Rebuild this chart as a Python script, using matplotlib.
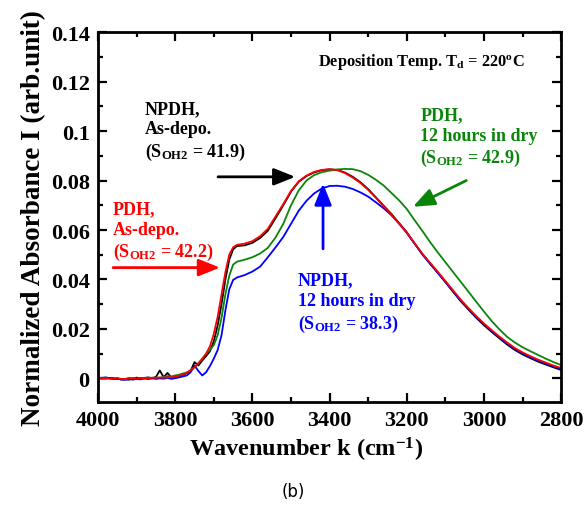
import matplotlib
matplotlib.use("Agg")
import matplotlib.pyplot as plt
from matplotlib.ticker import MultipleLocator, FormatStrFormatter

plt.rcParams["font.family"] = ["Liberation Serif", "DejaVu Serif"]
plt.rcParams["font.weight"] = "bold"
plt.rcParams["mathtext.fontset"] = "custom"
plt.rcParams["mathtext.rm"] = "Liberation Serif:bold"
plt.rcParams["mathtext.it"] = "Liberation Serif:bold"
plt.rcParams["mathtext.bf"] = "Liberation Serif:bold"

# wavenumber grid (cm^-1): 10 steps down to 3640, then 20 steps
wavenumber = [4000, 3990, 3980, 3970, 3960, 3950, 3940, 3930, 3920, 3910,
              3900, 3890, 3880, 3870, 3860, 3850, 3840, 3830, 3820, 3810,
              3800, 3790, 3780, 3770, 3760, 3750, 3740, 3730, 3720, 3710,
              3700, 3690, 3680, 3670, 3660, 3650, 3640,
              3620, 3600, 3580, 3560, 3540, 3520, 3500, 3480, 3460, 3440,
              3420, 3400, 3380, 3360, 3340, 3320, 3300, 3280, 3260, 3240,
              3220, 3200, 3180, 3160, 3140, 3120, 3100, 3080, 3060, 3040,
              3020, 3000, 2980, 2960, 2940, 2920, 2900, 2880, 2860, 2840,
              2820, 2800]

npdh_asdepo = [0.0002, -0.0001, 0.0000, 0.0002, 0.0001, -0.0002, -0.0004, -0.0003, 0.0001, -0.0002,
               0.0003, 0.0000, 0.0002, 0.0004, 0.0001, 0.0006, 0.0032, 0.0005, 0.0022, 0.0004,
               0.0006, 0.0010, 0.0014, 0.0022, 0.0030, 0.0066, 0.0052, 0.0072, 0.0090, 0.0110,
               0.0150, 0.0215, 0.0300, 0.0400, 0.0480, 0.0522, 0.0535,
               0.0538, 0.0548, 0.0568, 0.0597, 0.0648, 0.0700, 0.0755, 0.0795, 0.0818, 0.0833,
               0.0842, 0.0845, 0.0843, 0.0832, 0.0815, 0.0793, 0.0765, 0.0732, 0.0698, 0.0665,
               0.0628, 0.0591, 0.0546, 0.0503, 0.0465, 0.0428, 0.0390, 0.0350, 0.0312, 0.0278,
               0.0245, 0.0215, 0.0188, 0.0162, 0.0137, 0.0115, 0.0097, 0.0082, 0.0068, 0.0056,
               0.0045, 0.0034]

pdh_asdepo = [0.0000, 0.0001, 0.0002, -0.0001, 0.0000, 0.0001, -0.0002, -0.0003, 0.0000, 0.0001,
              -0.0001, 0.0002, 0.0000, 0.0001, 0.0003, 0.0002, 0.0004, 0.0003, 0.0005, 0.0004,
              0.0007, 0.0011, 0.0016, 0.0023, 0.0034, 0.0045, 0.0062, 0.0078, 0.0100, 0.0130,
              0.0180, 0.0250, 0.0340, 0.0430, 0.0500, 0.0530, 0.0540,
              0.0545, 0.0555, 0.0575, 0.0605, 0.0655, 0.0705, 0.0758, 0.0797, 0.0820, 0.0835,
              0.0843, 0.0846, 0.0842, 0.0830, 0.0812, 0.0790, 0.0762, 0.0730, 0.0696, 0.0662,
              0.0626, 0.0590, 0.0547, 0.0505, 0.0468, 0.0432, 0.0394, 0.0356, 0.0318, 0.0284,
              0.0252, 0.0222, 0.0195, 0.0169, 0.0145, 0.0123, 0.0105, 0.0090, 0.0076, 0.0064,
              0.0052, 0.0042]

pdh_12h = [-0.0002, 0.0001, -0.0001, 0.0000, -0.0003, 0.0002, -0.0005, -0.0002, -0.0006, 0.0001,
           -0.0003, 0.0002, 0.0000, 0.0003, -0.0001, 0.0004, 0.0002, 0.0006, 0.0009, 0.0008,
           0.0012, 0.0015, 0.0020, 0.0024, 0.0032, 0.0045, 0.0060, 0.0080, 0.0100, 0.0115,
           0.0135, 0.0175, 0.0245, 0.0340, 0.0415, 0.0460, 0.0472,
           0.0480, 0.0490, 0.0505, 0.0528, 0.0570, 0.0625, 0.0700, 0.0760, 0.0800, 0.0822,
           0.0834, 0.0840, 0.0845, 0.0847, 0.0846, 0.0838, 0.0823, 0.0803, 0.0780, 0.0750,
           0.0720, 0.0685, 0.0640, 0.0597, 0.0552, 0.0510, 0.0470, 0.0430, 0.0390, 0.0350,
           0.0310, 0.0270, 0.0232, 0.0198, 0.0168, 0.0145, 0.0126, 0.0110, 0.0095, 0.0080,
           0.0066, 0.0054]

npdh_12h = [0.0003, 0.0002, 0.0004, 0.0001, -0.0002, -0.0001, -0.0004, -0.0006, -0.0003, -0.0005,
            -0.0002, -0.0004, 0.0000, -0.0003, 0.0001, -0.0002, 0.0000, -0.0001, 0.0002, -0.0002,
            0.0001, 0.0004, 0.0008, 0.0012, 0.0025, 0.0052, 0.0030, 0.0012, 0.0025, 0.0050,
            0.0080, 0.0115, 0.0175, 0.0275, 0.0360, 0.0398, 0.0408,
            0.0418, 0.0432, 0.0452, 0.0490, 0.0530, 0.0572, 0.0625, 0.0678, 0.0718, 0.0748,
            0.0768, 0.0778, 0.0779, 0.0775, 0.0766, 0.0752, 0.0735, 0.0712, 0.0688, 0.0660,
            0.0626, 0.0588, 0.0545, 0.0502, 0.0464, 0.0427, 0.0390, 0.0352, 0.0315, 0.0281,
            0.0248, 0.0219, 0.0192, 0.0166, 0.0141, 0.0119, 0.0101, 0.0086, 0.0072, 0.0060,
            0.0049, 0.0038]

GREEN = "#0a850a"

fig = plt.figure(figsize=(5.87, 5.10), dpi=100)
ax = fig.add_axes([0.167, 0.21, 0.789, 0.725])

ax.plot(wavenumber, npdh_asdepo, color="black", lw=1.3)
ax.plot(wavenumber, pdh_12h, color=GREEN, lw=1.3)
ax.plot(wavenumber, npdh_12h, color="blue", lw=1.3)
ax.plot(wavenumber, pdh_asdepo, color="red", lw=1.3)

ax.set_xlim(4000, 2800)
ax.set_ylim(-0.0095, 0.14)
ax.xaxis.set_major_locator(MultipleLocator(200))
ax.xaxis.set_minor_locator(MultipleLocator(100))
ax.yaxis.set_major_locator(MultipleLocator(0.02))
ax.yaxis.set_minor_locator(MultipleLocator(0.01))
ax.yaxis.set_major_formatter(FormatStrFormatter("%g"))
ax.tick_params(which="both", direction="in", top=True, right=True, width=1.6)
ax.tick_params(which="major", length=6.5, labelsize=16, pad=6)
ax.tick_params(which="minor", length=3.5)
for s in ax.spines.values():
    s.set_linewidth(2)
for lab in ax.get_xticklabels() + ax.get_yticklabels():
    lab.set_fontweight("bold")

ax.set_xlabel("Wavenumber k (cm$^{\\mathrm{-1}}$)", fontsize=17.5, fontweight="bold", labelpad=3)
ax.xaxis.label.set_x(0.45)
ax.set_ylabel("Normalized Absorbance I (arb.unit)", fontsize=19.5, fontweight="bold", labelpad=3)

tkw = dict(fontsize=13, fontweight="bold", ha="left", va="top", linespacing=1.25)
ax.text(3430, 0.1282, "Deposition Temp. T$_{\\mathrm{d}}$ = 220$^{\\mathrm{o}}$C",
        color="black", fontsize=11.8, fontweight="bold", ha="left", va="center")
ax.text(3878, 0.1125, "NPDH,\nAs-depo.\n(S$_{\\mathrm{OH2}}$ = 41.9)", color="black", **tkw)
ax.text(3961, 0.0720, "PDH,\nAs-depo.\n(S$_{\\mathrm{OH2}}$ = 42.2)", color="red", **tkw)
ax.text(3482, 0.0432, "NPDH,\n12 hours in dry\n(S$_{\\mathrm{OH2}}$ = 38.3)", color="blue", **tkw)
ax.text(3165, 0.1100, "PDH,\n12 hours in dry\n(S$_{\\mathrm{OH2}}$ = 42.9)", color=GREEN, **tkw)

akw = dict(arrowstyle="-|>,head_length=1.0,head_width=0.4", lw=2, mutation_scale=13,
           shrinkA=0, shrinkB=0)
ax.annotate("", xy=(3489, 0.0815), xytext=(3689, 0.0815),
            arrowprops=dict(color="black", **akw))
ax.annotate("", xy=(3684, 0.0448), xytext=(3961, 0.0448),
            arrowprops=dict(color="red", **akw))
ax.annotate("", xy=(3417, 0.0788), xytext=(3417, 0.0524),
            arrowprops=dict(color="blue", **akw))
ax.annotate("", xy=(3184, 0.0694), xytext=(3046, 0.0800),
            arrowprops=dict(color=GREEN, **akw))

fig.text(0.5, 0.035, "(b)", ha="center", va="center", fontsize=12,
         fontweight="normal", family="DejaVu Sans")

fig.savefig("out.png", dpi=100)
